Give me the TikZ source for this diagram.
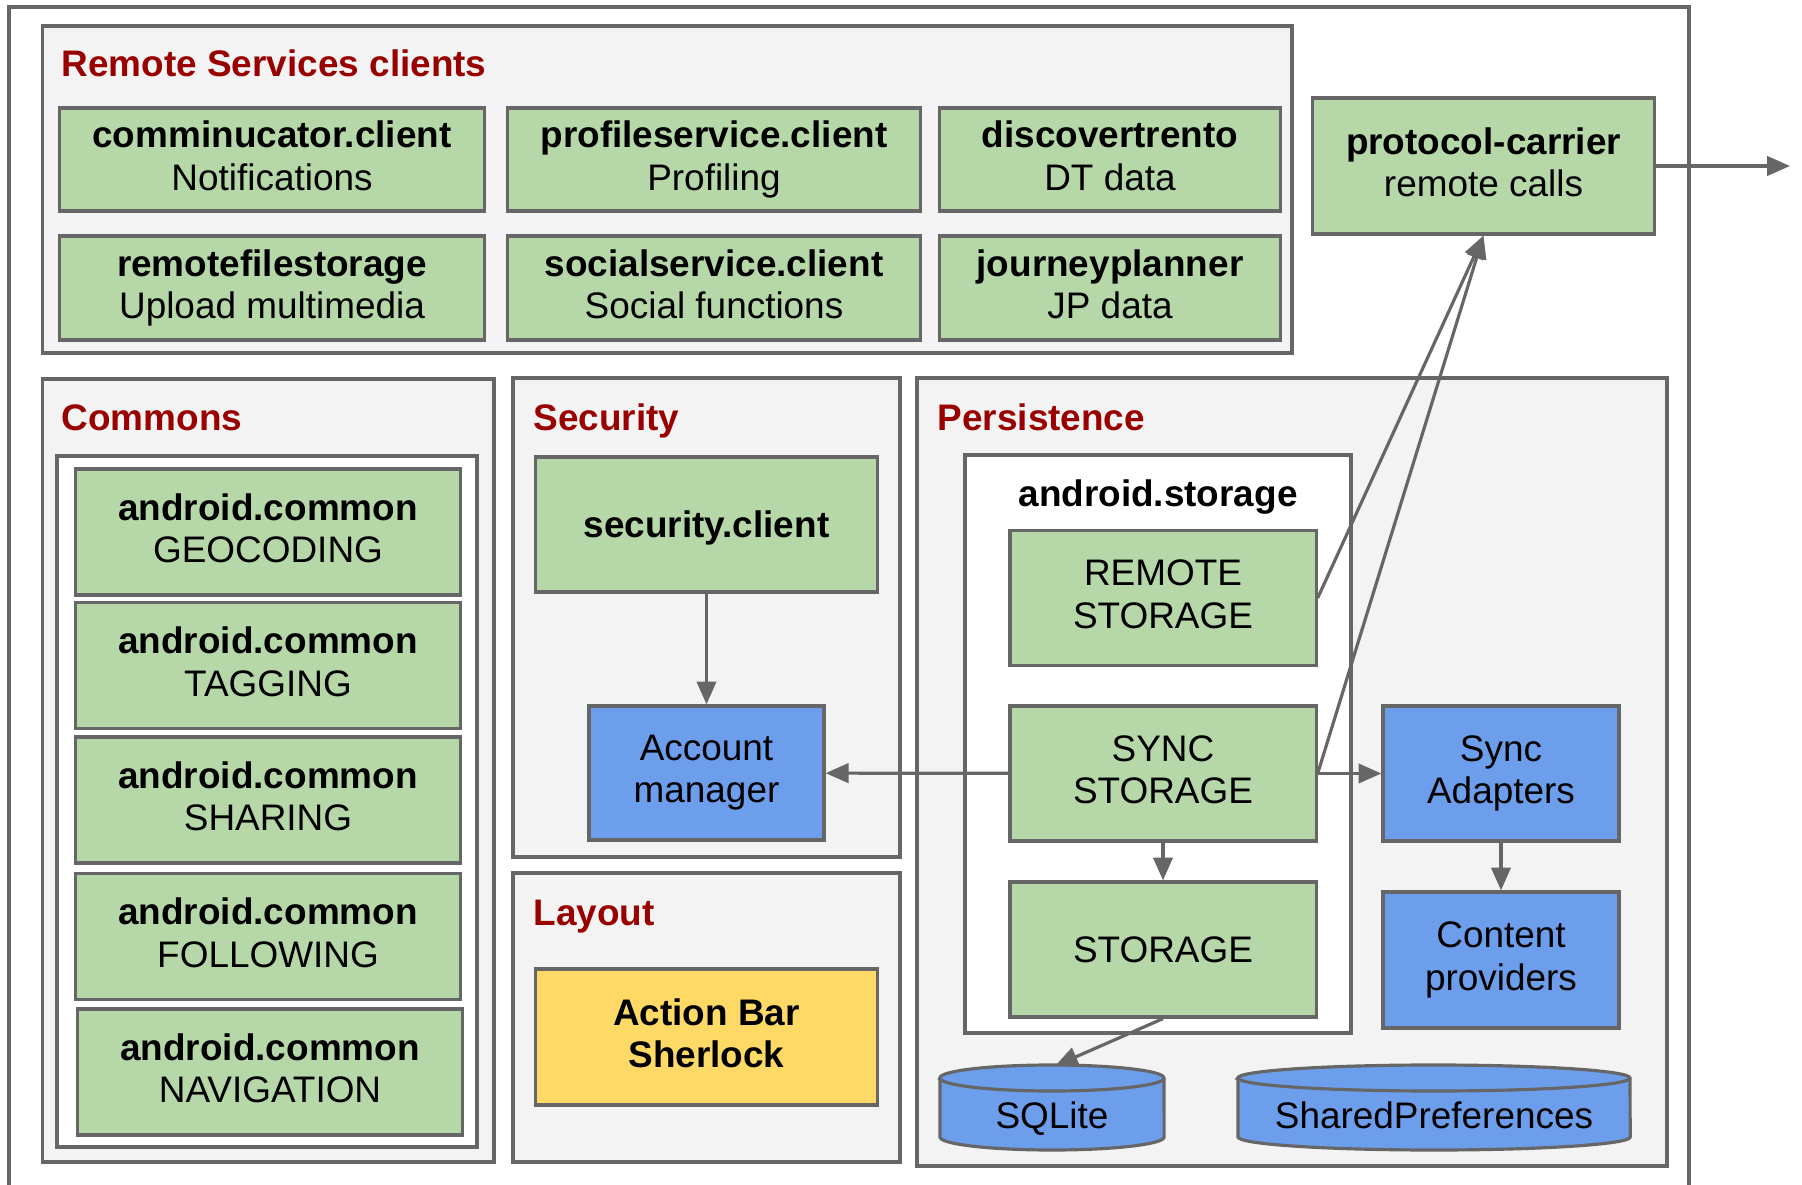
\documentclass[tikz,border=0pt]{standalone}
\usepackage{fontspec}
\setmainfont{Liberation Sans}
\usepackage{tikz}
\usetikzlibrary{arrows.meta}
\usepackage{xcolor}
\definecolor{linegray}{HTML}{666666}
\definecolor{panelgray}{HTML}{F3F3F3}
\definecolor{pkggreen}{HTML}{B6D7A8}
\definecolor{svcblue}{HTML}{6D9EEB}
\definecolor{baryellow}{HTML}{FFD966}
\definecolor{titlered}{HTML}{990000}

\begin{document}
\begin{tikzpicture}[x=0.01cm, y=-0.01cm,
  panel/.style={draw=linegray, fill=panelgray, line width=0.9pt},
  plainpanel/.style={draw=linegray, fill=white, line width=0.9pt},
  pkg/.style={rectangle, draw=linegray, fill=pkggreen, line width=0.9pt, align=center, inner sep=0pt, font=\fontsize{10.5}{12.1}\selectfont, execute at begin node={\rule{0pt}{9.6pt}}, execute at end node={\rule[-2.3pt]{0pt}{2.3pt}}},
  svc/.style={pkg, fill=svcblue},
  rsbox/.style={pkg, minimum height=1.04cm},
  cbox/.style={pkg, minimum width=3.84cm, minimum height=1.26cm},
  stbox/.style={pkg, minimum width=3.06cm, minimum height=1.35cm},
  head/.style={anchor=base west, text=titlered, inner sep=0pt, font=\bfseries\fontsize{10.5}{12.1}\selectfont},
  label/.style={anchor=base, inner sep=0pt, font=\fontsize{10.5}{12.1}\selectfont},
  db/.style={draw=linegray, fill=svcblue, line width=0.9pt},
  arrow/.style={-{Triangle[length=6.5pt, width=5.5pt]}, draw=linegray, line width=0.9pt},
]
\useasboundingbox (0,0) rectangle (1802,1185);

\draw[linegray, line width=0.9pt] (9,1185) |- (1689,7) -- (1689,1185);
\draw[panel] (42.5,26) rectangle (1292,353);
\draw[panel] (42.5,379) rectangle (494,1162);
\draw[plainpanel] (57,456) rectangle (477,1147);
\draw[panel] (513,378) rectangle (900,857);
\draw[panel] (513,873) rectangle (900,1162);
\draw[panel] (917,378) rectangle (1667,1166);
\draw[plainpanel] (965,455) rectangle (1351,1033);

\node[head] (remotetitle) at (61,77) {Remote Services clients};
\node[head] (commonstitle) at (61,431) {Commons};
\node[head] (securitytitle) at (533,430) {Security};
\node[head] (layouttitle) at (533,925) {Layout};
\node[head] (persisttitle) at (937,430) {Persistence};
\node[label, font=\bfseries\fontsize{10.5}{12.1}\selectfont] (storagetitle) at (1158,506) {android.storage};

\node[rsbox, minimum width=4.24cm, minimum height=1.03cm] (comm) at (272,159.5) {\textbf{comminucator.client}\\Notifications};
\node[rsbox, minimum width=4.12cm, minimum height=1.03cm] (profile) at (714,159.5) {\textbf{profileservice.client}\\Profiling};
\node[rsbox, minimum width=3.40cm, minimum height=1.03cm] (discover) at (1110,159.5) {\textbf{discovertrento}\\DT data};
\node[rsbox, minimum width=4.24cm] (filestore) at (272,288) {\textbf{remotefilestorage}\\Upload multimedia};
\node[rsbox, minimum width=4.12cm] (social) at (714,288) {\textbf{socialservice.client}\\Social functions};
\node[rsbox, minimum width=3.40cm] (journey) at (1110,288) {\textbf{journeyplanner}\\JP data};
\node[pkg, minimum width=3.41cm, minimum height=1.36cm] (carrier) at (1483.5,166) {\textbf{protocol-carrier}\\remote calls};

\node[cbox] (geo) at (268,532) {\textbf{android.common}\\GEOCODING};
\node[cbox] (tag) at (268,665.5) {\textbf{android.common}\\TAGGING};
\node[cbox] (share) at (268,800) {\textbf{android.common}\\SHARING};
\node[cbox] (follow) at (268,936.5) {\textbf{android.common}\\FOLLOWING};
\node[cbox] (navi) at (270,1072) {\textbf{android.common}\\NAVIGATION};

\node[pkg, minimum width=3.41cm, minimum height=1.35cm] (secclient) at (706.5,524.5) {\textbf{security.client}};
\node[svc, minimum width=2.35cm, minimum height=1.34cm] (account) at (706.5,773) {Account\\manager};
\node[pkg, fill=baryellow, minimum width=3.41cm, minimum height=1.36cm] (actionbar) at (706.5,1037) {\textbf{Action Bar}\\\textbf{Sherlock}};

\node[stbox] (remote) at (1163,598) {REMOTE\\STORAGE};
\node[stbox] (sync) at (1163,773.5) {SYNC\\STORAGE};
\node[stbox] (storage) at (1163,949.5) {STORAGE};
\node[svc, minimum width=2.36cm, minimum height=1.35cm] (adapters) at (1501,773.5) {Sync\\Adapters};
\node[svc, minimum width=2.36cm, minimum height=1.36cm] (providers) at (1501,960) {Content\\providers};

\filldraw[db] (940,1078) -- (940,1137) arc[start angle=180, end angle=360, x radius=1.12cm, y radius=0.13cm] -- (1164,1078) arc[start angle=0, end angle=180, x radius=1.12cm, y radius=0.13cm] -- cycle;
\draw[db, fill=none] (940,1078) arc[start angle=180, end angle=360, x radius=1.12cm, y radius=0.13cm];
\filldraw[db] (1238,1078) -- (1238,1137) arc[start angle=180, end angle=360, x radius=1.96cm, y radius=0.13cm] -- (1630,1078) arc[start angle=0, end angle=180, x radius=1.96cm, y radius=0.13cm] -- cycle;
\draw[db, fill=none] (1238,1078) arc[start angle=180, end angle=360, x radius=1.96cm, y radius=0.13cm];
\node[label] (sqlite) at (1052,1128) {SQLite};
\node[label] (prefs) at (1434,1128) {SharedPreferences};
\coordinate (sqltop) at (1055,1066);
\coordinate (outside) at (1790,166);

\draw[arrow] (secclient) -- (account);
\draw[arrow] (sync) -- (account);
\draw[arrow] (sync) -- (adapters);
\draw[arrow] (sync) -- (storage);
\draw[arrow] (adapters) -- (providers);
\draw[arrow] (remote.east) -- (carrier.south);
\draw[arrow] (sync.east) -- (carrier.south);
\draw[arrow] (carrier) -- (outside);
\draw[arrow] (storage.south) -- (sqltop);

\end{tikzpicture}
\end{document}
